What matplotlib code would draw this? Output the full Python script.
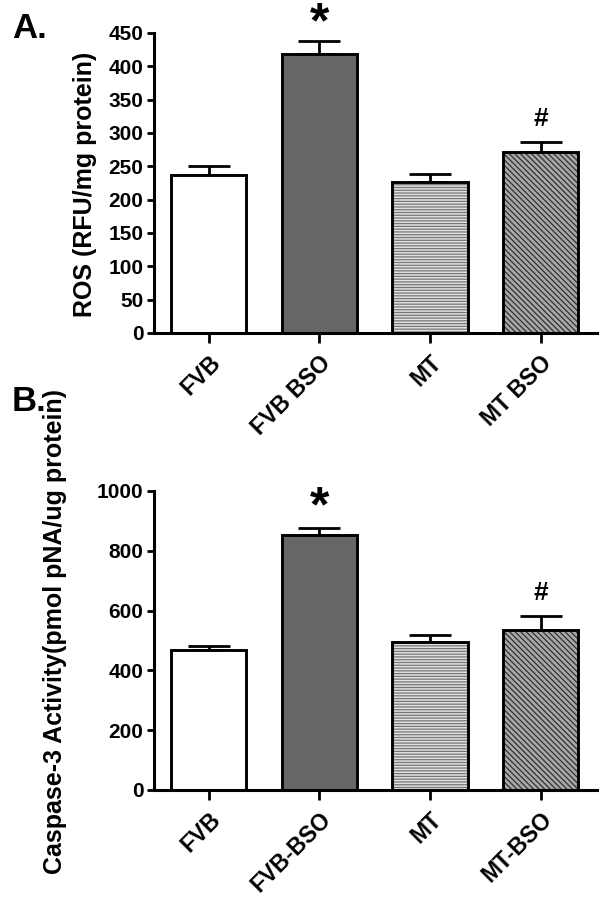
import matplotlib
matplotlib.use('Agg')
import matplotlib.pyplot as plt

plt.rcParams['font.family'] = ['Liberation Sans', 'DejaVu Sans']
plt.rcParams['font.weight'] = 'bold'
plt.rcParams['hatch.linewidth'] = 0.9

# Panel A: ROS
ros_groups = ['FVB', 'FVB BSO', 'MT', 'MT BSO']
ros_mean = [237, 418, 226, 271]
ros_sem = [13, 20, 12, 15]

# Panel B: caspase-3
casp_groups = ['FVB', 'FVB-BSO', 'MT', 'MT-BSO']
casp_mean = [469, 853, 496, 535]
casp_sem = [11, 22, 21, 47]

# significance marks: (bar index, y position, text)
ros_marks = [(1, 463, '*'), (3, 321, '#')]
casp_marks = [(1, 943, '*'), (3, 660, '#')]

faces = ['white', '#666666', '#e0e0e0', '#a8a8a8']
hatches = [None, None, '------', '\\\\\\\\\\\\']
hatch_cols = [None, None, '#767676', '#303030']


def draw_panel(ax, groups, mean, sem, marks, ymax, ystep):
    x = list(range(len(groups)))
    ax.errorbar(x, mean, yerr=[[0] * len(sem), sem], fmt='none', ecolor='black',
                elinewidth=2, capsize=15, capthick=2, zorder=1)
    for i in x:
        ax.bar(i, mean[i], width=0.68, color=faces[i], hatch=hatches[i],
               edgecolor=hatch_cols[i] if hatches[i] else faces[i], linewidth=0, zorder=2)
        ax.bar(i, mean[i], width=0.68, facecolor='none', edgecolor='black',
               linewidth=2.1, zorder=3)
    for i, yv, s in marks:
        size = 36 if s == '*' else 19
        ax.text(i, yv, s, ha='center', va='center', fontsize=size, fontweight='bold')
    ax.set_xlim(-0.495, 3.51)
    ax.set_ylim(0, ymax)
    ax.set_yticks(range(0, ymax + 1, ystep))
    ax.set_xticks(x)
    ax.set_xticklabels(groups, rotation=45, ha='right', va='top', rotation_mode='anchor')
    for s in ['top', 'right']:
        ax.spines[s].set_visible(False)
    for s in ['left', 'bottom']:
        ax.spines[s].set_linewidth(2.2)
    ax.tick_params(axis='y', length=5, width=2, pad=2.5, labelsize=15)
    ax.tick_params(axis='x', length=7, width=2, pad=6, labelsize=16.5)


fig = plt.figure(figsize=(6.12, 9.08), dpi=100)

ax1 = fig.add_axes([0.2516, 0.6333, 0.7239, 0.3304])
draw_panel(ax1, ros_groups, ros_mean, ros_sem, ros_marks, 450, 50)

ax2 = fig.add_axes([0.2516, 0.1300, 0.7239, 0.3293])
draw_panel(ax2, casp_groups, casp_mean, casp_sem, casp_marks, 1000, 200)

fig.text(85 / 612, 1 - 184 / 908, 'ROS (RFU/mg protein)', rotation=90,
         ha='center', va='center', fontsize=18, fontweight='bold')
fig.text(55 / 612, 1 - 632 / 908, 'Caspase-3 Activity(pmol pNA/ug protein)', rotation=90,
         ha='center', va='center', fontsize=18, fontweight='bold')

fig.text(12 / 612, 1 - 29 / 908, 'A.', ha='left', va='center', fontsize=25, fontweight='bold')
fig.text(12 / 612, 1 - 401 / 908, 'B.', ha='left', va='center', fontsize=25, fontweight='bold')

fig.savefig('out.png', dpi=100)
